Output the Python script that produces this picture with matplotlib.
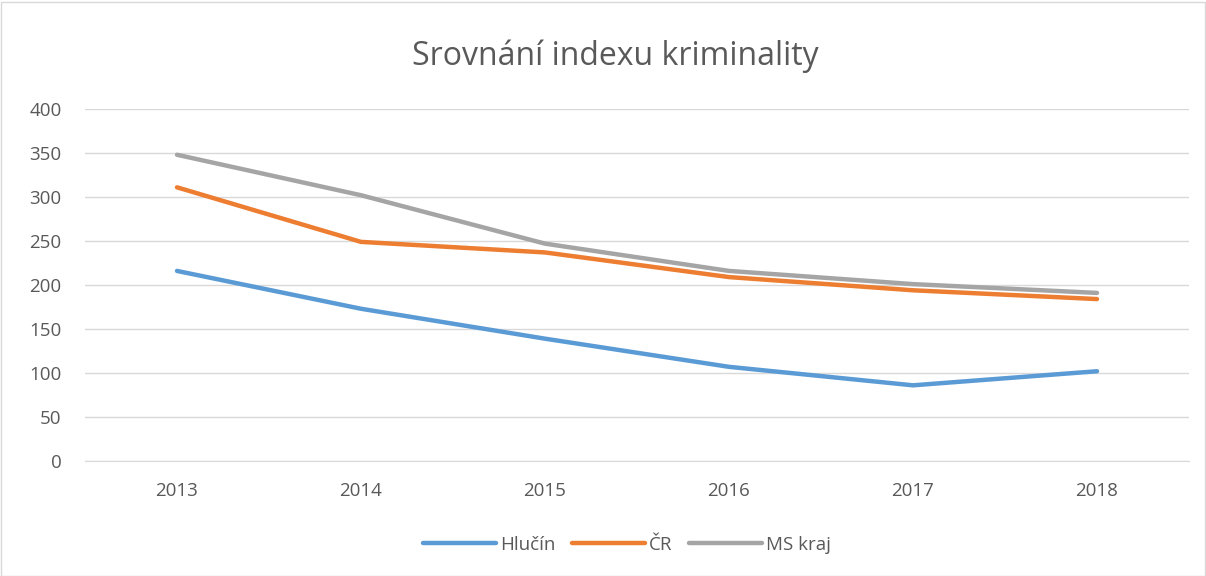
import matplotlib.pyplot as plt
from matplotlib.patches import Rectangle

years = ['2013', '2014', '2015', '2016', '2017', '2018']
hlucin = [216, 173, 139, 107, 86, 102]
cr = [311, 249, 237, 209, 194, 184]
ms_kraj = [348, 302, 247, 216, 201, 191]

plt.rcParams['font.family'] = ['Open Sans', 'DejaVu Sans']

fig = plt.figure(figsize=(12.06, 5.76), dpi=100)
ax = fig.add_axes([85 / 1206, 1 - 461 / 576, 1104 / 1206, 352 / 576])

x = range(len(years))
ax.plot(x, hlucin, color='#5B9BD5', linewidth=3.2, label='Hlučín', solid_capstyle='round')
ax.plot(x, cr, color='#ED7D31', linewidth=3.2, label='ČR', solid_capstyle='round')
ax.plot(x, ms_kraj, color='#A5A5A5', linewidth=3.2, label='MS kraj', solid_capstyle='round')

ax.set_xlim(-0.5, len(years) - 0.5)
ax.set_ylim(0, 400)
ax.set_yticks(range(0, 401, 50))
ax.set_xticks(list(x))
ax.set_xticklabels(years)
ax.grid(axis='y', color='#D9D9D9', linewidth=1)
ax.set_axisbelow(True)
for s in ['top', 'right', 'left']:
    ax.spines[s].set_visible(False)
ax.spines['bottom'].set_color('#D9D9D9')
ax.tick_params(length=0, labelsize=13.5, colors='#595959', pad=15)
ax.tick_params(axis='y', pad=17)

fig.text(615 / 1206, 1 - 56 / 576, 'Srovnání indexu kriminality', ha='center', va='center',
         fontsize=23, color='#595959')

fig.legend(loc='center', bbox_to_anchor=(627 / 1206, 1 - 545 / 576), ncol=3, frameon=False,
           fontsize=13.5, labelcolor='#595959', handlelength=3.9, columnspacing=0.9, handletextpad=0.2)

fig.patches.append(Rectangle((0.5 / 1206, 0.5 / 576), 1204 / 1206, 574 / 576, transform=fig.transFigure,
                             fill=False, edgecolor='#D9D9D9', linewidth=1))

fig.savefig('out.png', dpi=100, facecolor='white')
